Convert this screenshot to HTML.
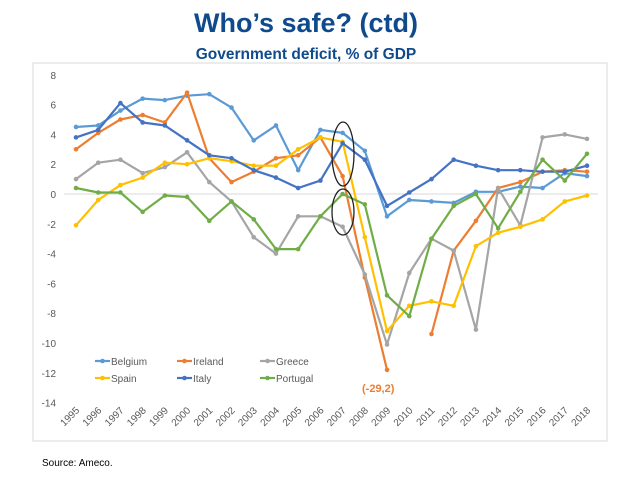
<!DOCTYPE html>
<html><head><meta charset="utf-8"><style>
body{margin:0;background:#fff;width:638px;height:479px;overflow:hidden;font-family:"Liberation Sans",sans-serif}
</style></head><body>
<svg width="638" height="479" xmlns="http://www.w3.org/2000/svg">
<text x="306" y="32" text-anchor="middle" font-size="27" font-weight="bold" fill="#0e4a8c" font-family="Liberation Sans, sans-serif">Who’s safe? (ctd)</text>
<text x="306" y="59" text-anchor="middle" font-size="15.5" font-weight="bold" fill="#0e4a8c" font-family="Liberation Sans, sans-serif">Government deficit, % of GDP</text>
<rect x="33" y="63" width="574" height="378" fill="none" stroke="#d9d9d9"/>
<g id="ylab"></g>
<g id="xlab"></g>
<g id="series"></g>
<ellipse cx="343" cy="154" rx="11" ry="32" fill="none" stroke="#222" stroke-width="1.3"/>
<ellipse cx="343" cy="212" rx="11" ry="23" fill="none" stroke="#222" stroke-width="1.3"/>
<text x="362" y="392" font-size="11" font-weight="bold" fill="#ed7d31">(-29,2)</text>
<g id="legend"></g>
<text x="42" y="466" font-size="10" fill="#000">Source: Ameco.</text>
</svg>
<script>
const years=[1995,1996,1997,1998,1999,2000,2001,2002,2003,2004,2005,2006,2007,2008,2009,2010,2011,2012,2013,2014,2015,2016,2017,2018];
const yTicks=[8,6,4,2,0,-2,-4,-6,-8,-10,-12,-14];
const seriesNames=["Belgium","Ireland","Greece","Spain","Italy","Portugal"];
const belgium=[4.5,4.6,5.6,6.4,6.3,6.6,6.7,5.8,3.6,4.6,1.6,4.3,4.1,2.9,-1.5,-0.4,-0.5,-0.6,0.15,0.15,0.5,0.4,1.4,1.2];
const ireland=[3.0,4.1,5.0,5.3,4.8,6.8,2.4,0.8,1.5,2.4,2.6,3.8,1.2,-5.6,-11.8,null,-9.4,-3.8,-1.8,0.4,0.8,1.5,1.6,1.5];
const greece=[1.0,2.1,2.3,1.4,1.8,2.8,0.8,-0.5,-2.9,-4.0,-1.5,-1.5,-2.2,-5.4,-10.1,-5.3,-3.0,-3.8,-9.1,0.4,-2.1,3.8,4.0,3.7];
const spain=[-2.1,-0.4,0.6,1.1,2.1,2.0,2.4,2.2,1.9,1.9,3.0,3.8,3.5,-2.9,-9.2,-7.5,-7.2,-7.5,-3.5,-2.6,-2.2,-1.7,-0.5,-0.1];
const italy=[3.8,4.3,6.1,4.8,4.6,3.6,2.6,2.4,1.6,1.1,0.4,0.9,3.4,2.3,-0.8,0.1,1.0,2.3,1.9,1.6,1.6,1.5,1.5,1.9];
const portugal=[0.4,0.1,0.1,-1.2,-0.1,-0.2,-1.8,-0.5,-1.7,-3.7,-3.7,-1.5,0.0,-0.7,-6.8,-8.2,-3.0,-0.8,0.0,-2.3,0.15,2.3,0.9,2.7];
const allSeries=[belgium,ireland,greece,spain,italy,portugal];
const colors=["#5b9bd5","#ed7d31","#a5a5a5","#ffc000","#4472c4","#70ad47"];
const NS="http://www.w3.org/2000/svg";
const X=i=>76+i*(511/23);
const Y=v=>194-v*14.9;
function mk(tag,attrs,parent){const e=document.createElementNS(NS,tag);for(const k in attrs)e.setAttribute(k,attrs[k]);parent.appendChild(e);return e;}
const yg=document.getElementById('ylab'),xg=document.getElementById('xlab'),sg=document.getElementById('series'),lg=document.getElementById('legend');
yTicks.forEach(t=>{
  const tx=mk('text',{x:56,y:Y(t)+4,'text-anchor':'end','font-size':10,fill:'#595959'},yg);
  
  
  tx.textContent=t;
});
const zl=mk('line',{x1:64,x2:598,y1:Y(0),y2:Y(0),stroke:'#d9d9d9'},yg);


years.forEach((yr,i)=>{
  const tx=mk('text',{x:X(i)+4,y:411,'text-anchor':'end','font-size':10,fill:'#595959',transform:`rotate(-45 ${X(i)+4} 411)`},xg);
  
  
  tx.textContent=yr;
});
allSeries.forEach((d,s)=>{
  const g=mk('g',{},sg);
  
  
  let segs=[],cur=[];
  d.forEach((v,i)=>{if(v===null){if(cur.length)segs.push(cur);cur=[];}else cur.push(X(i).toFixed(1)+','+Y(v).toFixed(1));});
  if(cur.length)segs.push(cur);
  segs.forEach(p=>{const pl=mk('polyline',{points:p.join(' '),fill:'none',stroke:colors[s],'stroke-width':2.2,'stroke-linejoin':'round'},g);
    
    });
  d.forEach((v,i)=>{if(v===null)return;const c=mk('circle',{cx:X(i),cy:Y(v),r:2.3,fill:colors[s]},g);
    
    });
});
const lx=[95,177,260],ly=[361,378];
seriesNames.forEach((n,s)=>{
  const x=lx[s%3],y=ly[Math.floor(s/3)];
  const g=mk('g',{},lg);
  
  
  mk('line',{x1:x,x2:x+15,y1:y,y2:y,stroke:colors[s],'stroke-width':2.2},g);
  mk('circle',{cx:x+7.5,cy:y,r:2.3,fill:colors[s]},g);
  const t=mk('text',{x:x+16,y:y+4,'font-size':10,fill:'#595959'},g);
  t.textContent=n;
});
</script>
</body></html>
